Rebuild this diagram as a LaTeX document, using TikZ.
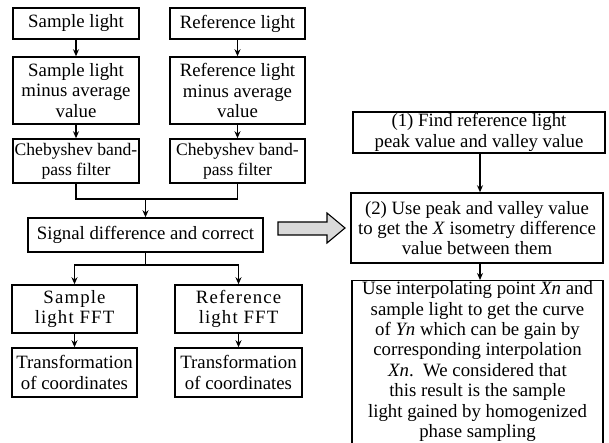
\documentclass[tikz,border=0pt]{standalone}
\usepackage{fontspec}
\setmainfont{Liberation Serif}
\usetikzlibrary{arrows.meta}
\newcommand{\boxfont}{\fontsize{18.8}{20.4}\selectfont}
\newcommand{\spaced}{\addfontfeature{LetterSpace=6}}
\begin{document}
\begin{tikzpicture}[x=1pt,y=1pt,
  box/.style={draw, line width=1.5pt, align=center, inner xsep=1pt, inner ysep=1.5pt, font=\boxfont},
  arr/.style={-{Stealth[length=7pt,width=6pt]}, line width=1.3pt},
  link/.style={line width=1.3pt}]
\useasboundingbox (0,0) rectangle (609,443);
\fill[white] (0,0) rectangle (609,443);
\clip (0,0) rectangle (609,443);

% left column: two parallel chains
\node[box, minimum width=126pt, minimum height=31pt] (sl) at (76,419.5) {Sample light};
\node[box, minimum width=135pt, minimum height=31pt] (rl) at (237.5,419.5) {Reference light};
\node[box, minimum width=126pt, minimum height=67pt] (slm) at (76,352.5) {Sample light\\minus average\\value};
\node[box, minimum width=135pt, minimum height=67pt] (rlm) at (237.5,352.5) {Reference light\\minus average\\value};
\node[box, minimum width=126pt, minimum height=44pt, font=\fontsize{17.6}{20.4}\selectfont] (cb1) at (76,282) {Chebyshev band-\\pass filter};
\node[box, minimum width=135pt, minimum height=44pt, font=\fontsize{17.6}{20.4}\selectfont] (cb2) at (237.5,282) {Chebyshev band-\\pass filter};
\node[box, minimum width=235pt, minimum height=34pt] (sig) at (145.5,208) {Signal difference and correct};
\node[box, minimum width=125pt, minimum height=48pt] (fft1) at (74.5,134) {\spaced Sample\\\spaced light\ FFT};
\node[box, minimum width=127pt, minimum height=48pt] (fft2) at (238.5,134) {\spaced Reference\\\spaced light\ FFT};
\node[box, minimum width=125pt, minimum height=49pt] (tr1) at (74.5,70.5) {Transformation\\of coordinates};
\node[box, minimum width=127pt, minimum height=49pt] (tr2) at (238.5,70.5) {Transformation\\of coordinates};

\draw[arr] (sl) -- (slm);
\draw[arr] (rl) -- (rlm);
\draw[arr] (slm) -- (cb1);
\draw[arr] (rlm) -- (cb2);
\coordinate (mg) at (sig.north |- 0,244);
\draw[link] (cb1.south) |- (mg) -| (cb2.south);
\draw[arr] (mg) -- (sig.north);
\coordinate (sp) at (sig.south |- 0,178);
\draw[link] (sig.south) -- (sp);
\draw[arr] (sp) -| (fft1.north);
\draw[arr] (sp) -| (fft2.north);
\draw[arr] (fft1) -- (tr1);
\draw[arr] (fft2) -- (tr2);

% block arrow towards the right-hand procedure
\draw[line width=1.1pt, fill=gray!30, line join=miter]
  (278,221) -- (327,221) -- (327,230) -- (345,215) -- (327,200) -- (327,208) -- (278,208) -- cycle;

% right column: homogenized phase sampling
\node[box, minimum width=252pt, minimum height=41pt] (r1) at (479,310.5) {(1) Find reference light\\peak value and valley value};
\node[box, minimum width=252pt, minimum height=70pt] (r2) at (477,215) {(2) Use peak and valley value\\to get the \textit{X} isometry difference\\value between them};
\node[box, minimum width=251pt, anchor=north, inner ysep=1pt] (r3) at (477.5,163) {Use interpolating point \textit{Xn} and\\sample light to get the curve\\of \textit{Yn} which can be gain by\\corresponding interpolation\\\textit{Xn}.\ \ We considered that\\this result is the sample\\light gained by homogenized\\phase sampling\strut};
\draw[arr] (r1.south -| 480,0) -- (r2.north -| 480,0);
\draw[arr] (r2.south -| 480,0) -- (r3.north -| 480,0);
\end{tikzpicture}
\end{document}
